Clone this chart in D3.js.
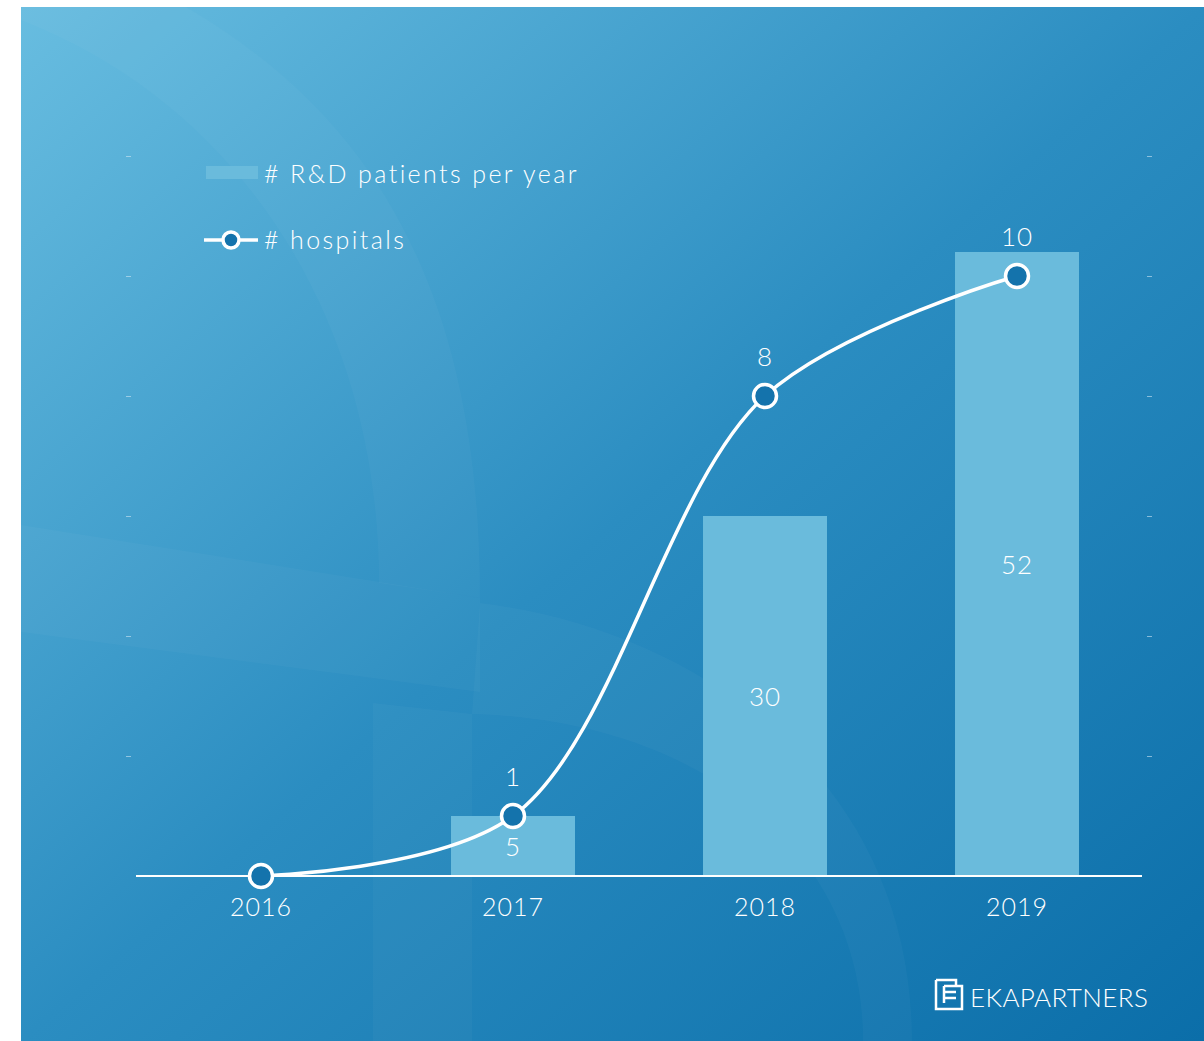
<!DOCTYPE html>
<html>
<head>
<meta charset="utf-8">
<script src="https://cdn.jsdelivr.net/npm/d3@7"></script>
<style>
  body { margin: 0; background: #fff; }
  svg { display: block; }
  text { font-family: Lato, "Open Sans", sans-serif; font-weight: 300; fill: #fff; }
</style>
</head>
<body>
<svg id="chart" width="1204" height="1041"></svg>
<script>
var years = ["2016", "2017", "2018", "2019"];
var patients = [0, 5, 30, 52];
var hospitals = [0, 1, 8, 10];
var leftTicks = [10, 20, 30, 40, 50, 60];
var rightTicks = [2, 4, 6, 8, 10, 12];

var svg = d3.select("#chart");
var baseY = 876, topY = 156;

// background
var defs = svg.append("defs");
var grad = defs.append("linearGradient")
    .attr("id", "bg")
    .attr("x1", 0).attr("y1", 0).attr("x2", 1).attr("y2", 1);
grad.append("stop").attr("offset", "0").attr("stop-color", "#68bde0");
grad.append("stop").attr("offset", "0.5").attr("stop-color", "#2b8dc1");
grad.append("stop").attr("offset", "1").attr("stop-color", "#0b6ea9");
svg.append("rect")
    .attr("x", 21).attr("y", 7)
    .attr("width", 1183).attr("height", 1034)
    .attr("fill", "url(#bg)");

// faint watermark shapes
var marks = [
    "M186,7 C380,120 480,300 480,598 L379,583 C379,330 250,110 21,20 L21,7 Z",
    "M21,525 L480,598 L480,692 L21,632 Z",
    "M480,603 C700,630 912,780 912,1041 L863,1041 C863,850 700,720 472,714 Z",
    "M373,703 L472,714 L472,1041 L373,1041 Z"
];
svg.append("g").selectAll("path")
    .data(marks)
    .enter().append("path")
    .attr("d", function (d) { return d; })
    .attr("fill", "#fff")
    .attr("fill-opacity", 0.028);

// scales
var x = d3.scaleBand()
    .domain(years)
    .range([135, 1143])
    .paddingInner(0.508)
    .paddingOuter(0.254);
var yLeft = d3.scaleLinear().domain([0, 60]).range([baseY, topY]);
var yRight = d3.scaleLinear().domain([0, 12]).range([baseY, topY]);

// tick marks only
var axL = svg.append("g")
    .attr("transform", "translate(131,0)")
    .call(d3.axisLeft(yLeft).tickValues(leftTicks).tickSize(5).tickFormat(""));
var axR = svg.append("g")
    .attr("transform", "translate(1147,0)")
    .call(d3.axisRight(yRight).tickValues(rightTicks).tickSize(5).tickFormat(""));
[axL, axR].forEach(function (a) {
    a.select(".domain").remove();
    a.selectAll("line").attr("stroke", "#cfe6f3").attr("stroke-opacity", 0.6);
});

// bars
svg.append("g").selectAll("rect")
    .data(patients)
    .enter().append("rect")
    .attr("x", function (d, i) { return x(years[i]); })
    .attr("y", function (d) { return yLeft(d); })
    .attr("width", x.bandwidth())
    .attr("height", function (d) { return baseY - yLeft(d); })
    .attr("fill", "#6abbdc");

// bar labels
svg.append("g").selectAll("text")
    .data(patients)
    .enter().filter(function (d) { return d > 0; }).append("text")
    .attr("x", function (d) { return x(years[patients.indexOf(d)]) + x.bandwidth() / 2; })
    .attr("y", function (d) { return (yLeft(d) + baseY) / 2; })
    .attr("dy", "0.4em")
    .attr("text-anchor", "middle")
    .attr("font-size", 26)
    .attr("letter-spacing", 1)
    .text(function (d) { return d; });

// x axis
var axX = svg.append("g")
    .attr("transform", "translate(0," + baseY + ")")
    .call(d3.axisBottom(x).tickSize(0).tickPadding(22));
axX.select(".domain").remove();
axX.append("line")
    .attr("x1", 136).attr("x2", 1142)
    .attr("stroke", "#fff").attr("stroke-width", 2);
axX.selectAll("text")
    .attr("font-family", "Lato, sans-serif")
    .attr("font-weight", 300)
    .attr("font-size", 25)
    .attr("letter-spacing", 1)
    .attr("fill", "#e8f3f9");

// line
var cx = function (i) { return x(years[i]) + x.bandwidth() / 2; };
var line = d3.line()
    .x(function (d, i) { return cx(i); })
    .y(function (d) { return yRight(d); })
    .curve(d3.curveCatmullRom.alpha(0.5));
svg.append("path")
    .datum(hospitals)
    .attr("d", line)
    .attr("fill", "none")
    .attr("stroke", "#fff")
    .attr("stroke-width", 3.5);

svg.append("g").selectAll("circle")
    .data(hospitals)
    .enter().append("circle")
    .attr("cx", function (d, i) { return cx(i); })
    .attr("cy", function (d) { return yRight(d); })
    .attr("r", 11.5)
    .attr("fill", "#1473ac")
    .attr("stroke", "#fff")
    .attr("stroke-width", 3.5);

svg.append("g").selectAll("text")
    .data(hospitals)
    .enter().append("text")
    .filter(function (d) { return d > 0; })
    .attr("x", function (d) { return cx(hospitals.indexOf(d)); })
    .attr("y", function (d) { return yRight(d) - 30; })
    .attr("text-anchor", "middle")
    .attr("font-size", 26)
    .attr("letter-spacing", 1)
    .text(function (d) { return d; });

// legend
var lg = svg.append("g");
lg.append("rect")
    .attr("x", 206).attr("y", 166).attr("width", 52).attr("height", 13)
    .attr("fill", "#6abbdc");
lg.append("text")
    .attr("x", 264).attr("y", 183)
    .attr("font-size", 25).attr("letter-spacing", 2.4)
    .text("# R&D patients per year");
lg.append("line")
    .attr("x1", 204).attr("x2", 258).attr("y1", 240).attr("y2", 240)
    .attr("stroke", "#fff").attr("stroke-width", 3.5);
lg.append("circle")
    .attr("cx", 231).attr("cy", 240).attr("r", 8)
    .attr("fill", "#1473ac").attr("stroke", "#fff").attr("stroke-width", 3.5);
lg.append("text")
    .attr("x", 264).attr("y", 249)
    .attr("font-size", 25).attr("letter-spacing", 2.4)
    .text("# hospitals");

// logo
var logo = svg.append("g")
    .attr("fill", "none").attr("stroke", "#fff").attr("stroke-width", 2.5);
logo.append("path").attr("d", "M936,980 H956 V986 M944,986 H962 V1003 M936,980 V1009 H962 V1003 M944,986 V1003 M944,992 H956 M944,998 H956");
svg.append("text")
    .attr("x", 970).attr("y", 1007)
    .attr("font-size", 26).attr("letter-spacing", 0.4)
    .text("EKAPARTNERS");
</script>
</body>
</html>
